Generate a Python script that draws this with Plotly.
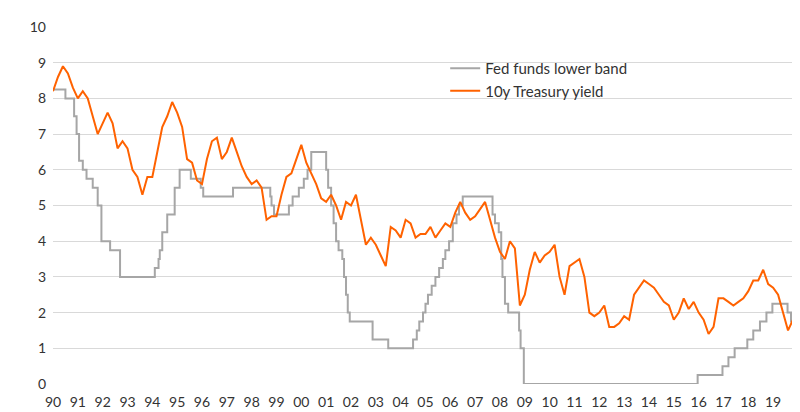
import plotly.graph_objects as go

# Fed funds lower band: change points (decimal year, level)
fed_x = [1990.0,1990.5,1990.85,1990.95,1991.05,1991.2,1991.35,1991.6,1991.8,1991.95,1992.3,1992.7,1994.1,1994.25,1994.3,1994.4,1994.6,1994.9,1995.1,1995.55,1995.95,1996.05,1997.25,1998.75,1998.8,1998.9,1999.5,1999.65,1999.9,2000.1,2000.25,2000.4,2001.0,2001.08,2001.2,2001.3,2001.4,2001.5,2001.65,2001.72,2001.8,2001.87,2001.95,2002.87,2003.5,2004.5,2004.65,2004.75,2004.9,2005.0,2005.1,2005.25,2005.4,2005.55,2005.7,2005.8,2005.95,2006.1,2006.25,2006.35,2006.5,2007.7,2007.8,2007.95,2008.05,2008.1,2008.2,2008.33,2008.77,2008.83,2008.96,2015.96,2016.96,2017.2,2017.45,2017.96,2018.2,2018.47,2018.73,2018.97,2019.58,2019.72,2019.8]
fed_y = [8.25,8.0,7.5,7.0,6.25,6.0,5.75,5.5,5.0,4.0,3.75,3.0,3.25,3.5,3.75,4.25,4.75,5.5,6.0,5.75,5.5,5.25,5.5,5.25,5.0,4.75,5.0,5.25,5.5,5.75,6.0,6.5,6.0,5.5,5.0,4.5,4.0,3.75,3.5,3.0,2.5,2.0,1.75,1.25,1.0,1.25,1.5,1.75,2.0,2.25,2.5,2.75,3.0,3.25,3.5,3.75,4.0,4.5,4.75,5.0,5.25,4.75,4.5,4.25,3.5,3.0,2.25,2.0,1.5,1.0,0.0,0.25,0.5,0.75,1.0,1.25,1.5,1.75,2.0,2.25,2.0,1.75,1.75]

# 10y Treasury yield, five readings per year
years = list(range(1990, 2020))
yield_by_year = [
    [8.2,8.6,8.9,8.7,8.3],[8.0,8.2,8.0,7.5,7.0],[7.3,7.6,7.3,6.6,6.8],[6.6,6.0,5.8,5.3,5.8],
    [5.8,6.5,7.2,7.5,7.9],[7.6,7.2,6.3,6.2,5.7],[5.6,6.3,6.8,6.9,6.3],[6.5,6.9,6.5,6.1,5.8],
    [5.6,5.7,5.5,4.6,4.7],[4.7,5.3,5.8,5.9,6.3],[6.7,6.2,5.9,5.6,5.2],[5.1,5.3,5.0,4.6,5.1],
    [5.0,5.3,4.6,3.9,4.1],[3.9,3.6,3.3,4.4,4.3],[4.1,4.6,4.5,4.1,4.2],[4.2,4.4,4.1,4.3,4.5],
    [4.4,4.8,5.1,4.8,4.6],[4.7,4.9,5.1,4.6,4.1],[3.7,3.5,4.0,3.8,2.2],[2.5,3.2,3.7,3.4,3.6],
    [3.7,3.9,3.0,2.5,3.3],[3.4,3.5,3.0,2.0,1.9],[2.0,2.2,1.6,1.6,1.7],[1.9,1.8,2.5,2.7,2.9],
    [2.8,2.7,2.5,2.3,2.2],[1.8,2.0,2.4,2.1,2.3],[2.0,1.8,1.4,1.6,2.4],[2.4,2.3,2.2,2.3,2.4],
    [2.6,2.9,2.9,3.2,2.8],[2.7,2.5,2.0,1.5,1.8],
]
offsets = [0.0,0.2,0.4,0.6,0.8]
yx = [y + o for y in years for o in offsets]
yy = [v for row in yield_by_year for v in row]

tick_labels = [str(y)[2:] for y in years]

fig = go.Figure()
fig.add_trace(go.Scatter(x=fed_x, y=fed_y, mode="lines", line_shape="hv",
                         line=dict(color="#A6A6A6", width=2), name="Fed funds lower band"))
fig.add_trace(go.Scatter(x=yx, y=yy, mode="lines",
                         line=dict(color="#FF6200", width=2), name="10y Treasury yield"))
fig.update_layout(
    width=800, height=412, margin=dict(l=45, r=15, t=10, b=30),
    paper_bgcolor="white", plot_bgcolor="white",
    font=dict(family="Lato", size=14, color="#333333"),
    legend=dict(x=0.53, y=0.93, bgcolor="rgba(0,0,0,0)", font=dict(size=15)),
    xaxis=dict(range=[1990, 2019.8], tickvals=years, ticktext=tick_labels,
               showgrid=False, showline=False, ticks="", zeroline=False,
               ticklabelstandoff=8),
    yaxis=dict(range=[0, 10], dtick=1, gridcolor="#D9D9D9", zeroline=False,
               ticks="", showline=False, ticklabelstandoff=6),
)
fig.write_html("out.html")
